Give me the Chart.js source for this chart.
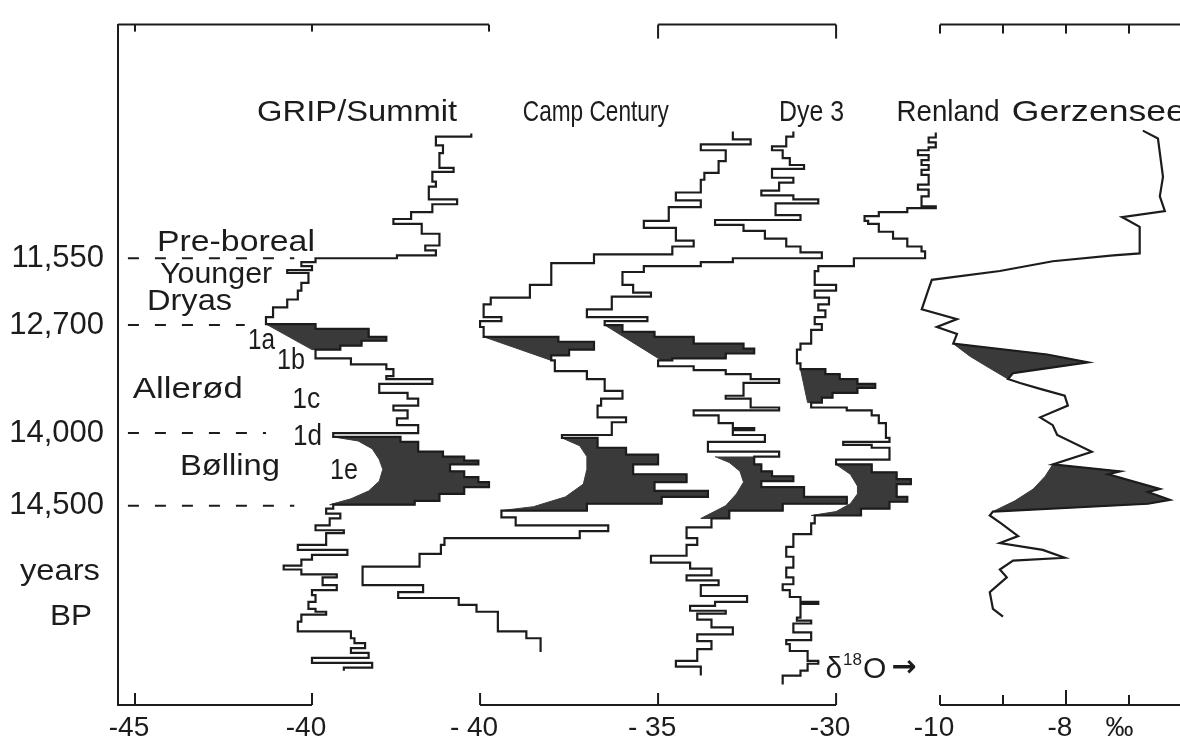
<!DOCTYPE html>
<html>
<head>
<meta charset="utf-8">
<script src="https://cdn.jsdelivr.net/npm/chart.js@4.4.1/dist/chart.umd.min.js"></script>
<style>
  html, body { margin: 0; padding: 0; background: #fff; }
  #wrap { width: 1180px; height: 740px; position: relative; }
</style>
</head>
<body>
<div id="wrap"><canvas id="chart"></canvas></div>
<script>
const ink = '#1c1c1c'
const shade = '#3a3a3a'
const face = '"Liberation Sans", Arial, sans-serif'

// dated levels (left axis), positions in core-profile units (0 = top)
const levelPos = [23.3, 30.1, 41.1, 48.5]
const levelLabels = ['11,550', '12,700', '14,000', '14,500']
const dashStart = -45.2
const dashEnd = [-40.5, -41.9, -41.3, -40.5]

// GRIP / Summit  (step profile: value i holds from pos i to pos i+1)
const gripPos = [10.6, 10.9, 11.8, 12.6, 14.1, 14.5, 15.5, 16.0, 17.3, 17.8,
  18.6, 19.3, 19.8, 20.8, 22.0, 22.5, 23.0, 23.3, 23.7, 24.1,
  24.5, 24.8, 25.8, 26.6, 27.5, 28.3, 29.3, 30.0, 30.5, 31.3,
  31.7, 32.2, 32.6, 33.5, 34.1, 34.6, 35.3, 35.6, 36.1, 37.0,
  37.6, 38.3, 38.8, 39.6, 40.3, 41.1, 41.5, 42.0, 42.5, 43.0,
  43.5, 43.9, 44.3, 45.0, 45.6, 46.1, 46.6, 47.3, 48.0, 48.4,
  48.8, 49.3, 49.8, 50.5, 51.0, 51.3, 52.5, 53.0, 53.5, 54.0,
  54.6, 55.0, 55.5, 55.8, 56.6, 57.1, 57.6, 58.3, 59.0, 59.3,
  59.6, 60.3, 61.3, 62.0, 62.5, 63.0, 63.5, 64.0, 64.5, 65.0, 65.3]
const gripD18O = [-35.5, -36.5, -36.3, -36.4, -36.0, -36.6, -36.5, -36.7, -35.9, -36.6,
  -37.2, -37.7, -36.9, -36.4, -36.8, -36.5, -37.6, -39.9, -40.3, -40.0,
  -40.7, -40.1, -40.3, -40.4, -40.7, -41.1, -41.3, -39.9, -38.4, -37.9,
  -38.6, -39.2, -39.9, -38.9, -37.9, -37.7, -37.9, -36.6, -38.1, -37.3,
  -37.0, -37.7, -37.3, -37.6, -37.0, -39.4, -37.5, -37.0, -37.0, -36.3,
  -35.7, -35.3, -36.1, -35.7, -35.3, -35.0, -35.7, -36.4, -37.1, -39.4,
  -39.6, -39.2, -39.5, -39.9, -39.1, -39.6, -40.4, -39.0, -40.0, -40.3,
  -40.8, -40.3, -39.3, -39.7, -39.3, -40.0, -39.9, -40.1, -39.9, -39.6,
  -40.3, -40.4, -38.9, -38.8, -38.5, -38.9, -38.4, -40.0, -38.3, -39.1]

// Camp Century
const campPos = [10.4, 11.2, 11.7, 12.3, 13.4, 14.6, 15.3, 16.6, 17.4, 18.1,
  19.5, 20.2, 21.5, 22.1, 22.9, 23.8, 26.0, 27.3, 28.0, 29.3,
  29.7, 30.3, 31.3, 31.8, 32.6, 33.2, 33.7, 34.8, 35.6, 36.8,
  37.6, 38.3, 39.5, 40.0, 41.3, 41.6, 42.6, 43.3, 44.3, 45.3,
  46.1, 47.0, 47.6, 48.3, 49.0, 49.7, 50.5, 51.1, 51.8, 52.5,
  53.4, 54.7, 56.6, 57.3, 57.9, 58.6, 59.3, 61.3, 62.0, 63.4]
const campD18O = [-32.9, -32.4, -33.8, -33.1, -33.3, -33.7, -33.8, -34.5, -33.8, -34.7,
  -35.4, -34.5, -34.0, -34.6, -36.8, -38.0, -38.6, -39.7, -39.9, -39.4,
  -40.0, -39.9, -37.8, -36.8, -37.5, -38.0, -37.9, -37.0, -36.5, -36.0,
  -36.6, -36.7, -35.9, -36.3, -37.7, -36.7, -35.9, -35.0, -35.7, -34.2,
  -35.1, -33.6, -34.9, -37.0, -39.4, -39.0, -36.4, -37.2, -41.0, -41.1,
  -41.7, -43.3, -41.6, -42.3, -40.6, -40.1, -39.5, -38.7, -38.3]

// Dye 3
const dyePos = [10.4, 10.9, 11.9, 12.3, 13.1, 13.8, 14.2, 15.1, 15.6, 16.4,
  16.9, 17.3, 17.7, 18.9, 19.4, 19.9, 20.5, 21.3, 22.1, 22.7,
  23.3, 23.7, 24.1, 24.7, 26.0, 26.8, 27.2, 28.5, 29.3, 29.7,
  30.1, 30.8, 31.3, 32.0, 32.5, 33.0, 33.5, 33.7, 34.3, 34.7,
  35.1, 35.6, 36.0, 37.3, 37.6, 38.5, 38.8, 39.3, 40.1, 40.6,
  40.8, 41.3, 42.0, 43.0, 43.5, 44.3, 45.0, 45.5, 46.0, 46.6,
  47.6, 48.3, 49.0, 49.8, 50.7, 51.8, 52.5, 53.6, 54.3, 54.9,
  55.6, 56.1, 56.6, 57.7, 58.3, 58.7, 59.2, 59.5, 60.1, 60.9,
  61.6, 62.3, 63.1, 64.3, 64.9, 65.8]
const dyeD18O = [-31.2, -31.4, -31.8, -31.5, -31.3, -30.9, -31.8, -31.2, -31.6, -32.1,
  -31.2, -30.5, -31.7, -31.0, -33.4, -32.6, -32.0, -31.4, -31.0, -30.4,
  -32.9, -33.8, -35.4, -36.0, -35.7, -35.2, -36.3, -37.0, -35.3, -36.5,
  -36.0, -35.1, -34.0, -32.6, -32.3, -33.1, -34.6, -35.0, -34.0, -33.1,
  -32.4, -31.6, -32.6, -33.1, -32.4, -31.6, -34.0, -33.3, -32.9, -32.3,
  -32.9, -32.0, -33.6, -31.6, -32.3, -32.1, -31.8, -31.2, -32.1, -30.9,
  -29.7, -31.5, -33.0, -33.5, -34.2, -33.9, -34.2, -35.2, -34.1, -33.5,
  -34.2, -33.3, -33.8, -32.5, -33.4, -34.1, -33.1, -33.9, -33.5, -32.9,
  -33.9, -33.5, -33.9, -34.5, -33.8]

// Renland
const renPos = [10.5, 11.0, 11.5, 12.0, 12.3, 12.8, 13.3, 13.8, 14.3, 14.8,
  15.3, 15.8, 16.3, 17.0, 17.5, 18.0, 18.2, 18.6, 19.0, 19.5,
  19.8, 20.6, 21.3, 22.1, 22.6, 23.3, 24.1, 24.6, 26.0, 26.6,
  27.3, 28.0, 28.6, 29.3, 30.0, 30.6, 31.3, 32.0, 32.6, 34.0,
  34.6, 35.1, 35.6, 36.1, 36.5, 37.0, 37.5, 38.0, 38.5, 38.8,
  39.3, 40.1, 41.6, 42.0, 42.3, 42.6, 43.8, 44.3, 45.1, 45.8,
  46.3, 47.6, 48.1, 48.8, 49.5, 50.3, 51.4, 52.7, 53.7, 54.8,
  55.8, 56.5, 57.1, 57.8, 58.3, 58.5, 59.9, 60.2, 60.5, 61.4,
  62.2, 62.6, 63.3, 64.3, 64.6, 65.3, 65.8, 66.7]
const renD18O = [-27.2, -27.4, -27.2, -27.4, -27.7, -27.4, -27.6, -27.4, -27.6, -27.4,
  -27.4, -27.7, -27.4, -27.6, -27.6, -27.2, -28.0, -28.8, -29.2, -29.1,
  -28.8, -28.4, -28.0, -27.6, -27.5, -29.5, -30.5, -30.6, -30.0, -30.6,
  -30.2, -30.5, -30.3, -30.6, -30.4, -30.7, -30.7, -31.0, -31.1, -31.0,
  -30.3, -29.9, -29.4, -28.9, -29.4, -30.1, -30.4, -30.7, -29.7, -29.0,
  -28.8, -28.6, -28.5, -29.8, -29.0, -28.5, -30.0, -29.0, -28.3, -27.9,
  -28.3, -28.0, -28.5, -29.3, -30.6, -30.7, -31.2, -31.4, -31.2, -31.4,
  -31.2, -31.5, -31.3, -31.0, -30.5, -31.0, -31.1, -30.7, -31.2, -30.7,
  -31.4, -31.3, -30.8, -30.5, -30.8, -31.0, -31.5]

// Gerzensee (lake marl, continuous curve)
const gerzPos = [10.3, 11.1, 15.0, 17.0, 18.5, 19.1, 20.1, 22.8, 23.0, 23.6,
  24.6, 25.5, 26.6, 28.5, 29.5, 30.3, 31.0, 32.0, 33.1, 33.9,
  35.0, 35.6, 36.0, 36.6, 37.3, 38.3, 39.5, 40.3, 41.3, 43.0,
  44.3, 45.0, 45.3, 46.8, 47.1, 47.9, 48.3, 49.1, 49.5, 50.3,
  51.6, 52.3, 53.0, 53.8, 54.1, 55.0, 55.8, 57.3, 59.0, 59.8]
const gerzD18O = [-6.78, -6.54, -6.46, -6.51, -6.43, -7.11, -6.83, -6.83, -7.25, -8.21,
  -9.05, -10.13, -10.19, -10.29, -9.73, -10.05, -9.73, -9.79, -8.30, -7.65,
  -8.84, -8.92, -8.73, -8.41, -8.02, -7.97, -8.41, -8.21, -8.14, -7.59,
  -8.21, -7.14, -7.33, -6.51, -6.70, -6.35, -6.70, -9.16, -9.21, -9.03,
  -8.76, -9.05, -8.37, -8.02, -8.84, -9.05, -8.94, -9.21, -9.16, -9.00]

// shaded warm events: rows of the profile + inner (left) edge [value, pos]
const grip1aRows = [27, 31]
const grip1aEdge = [[-41.3, 30.0], [-40.0, 32.6]]
const grip1eRows = [46, 58]
const grip1eEdge = [[-39.4, 41.5], [-38.7, 41.9], [-38.3, 42.7], [-38.1, 43.8], [-38.0, 44.8],
  [-38.1, 46.0], [-38.4, 47.0], [-38.9, 47.8], [-39.5, 48.4]]
const camp1aRows = [22, 25]
const camp1aEdge = [[-39.9, 31.3], [-38.0, 33.7]]
const camp1eRows = [35, 43]
const camp1eEdge = [[-37.7, 41.6], [-37.2, 42.4], [-37.0, 43.5], [-37.0, 44.8], [-37.1, 46.3],
  [-37.6, 47.6], [-38.5, 48.6], [-39.4, 49.0]]
const dye1aRows = [30, 36]
const dye1aEdge = [[-36.5, 30.1], [-34.9, 33.7]]
const dye1eRows = [54, 62]
const dye1eEdge = [[-33.4, 43.5], [-33.0, 44.1], [-32.7, 45.0], [-32.6, 46.1], [-32.8, 47.3],
  [-33.1, 48.5], [-33.8, 49.8]]
const ren1aRows = [40, 46]
const ren1aEdge = [[-31.0, 34.6], [-30.8, 38.0]]
const ren1eRows = [57, 63]
const ren1eEdge = [[-30.0, 44.3], [-29.6, 45.3], [-29.4, 46.5], [-29.4, 47.3], [-29.6, 48.3],
  [-30.0, 49.1], [-30.7, 49.5]]
const gerz1aPts = [17, 21]
const gerz1aEdge = [[-9.79, 32.0], [-9.52, 33.3], [-9.21, 34.5], [-8.92, 35.6]]
const gerz1ePts = [30, 37]
const gerz1eEdge = [[-8.21, 44.3], [-8.33, 45.5], [-8.52, 46.8], [-8.81, 48.0], [-9.16, 49.1]]

// axis pieces drawn along the frame
const gripTicks = [-45, -40]
const gripTickLabels = ['-45', '-40']
const campTicks = [-40, -35, -30]
const campTickLabels = ['- 40', '- 35', '-30']
const gerzTicks = [-10, -9, -8, -7]
const gerzTickLabels = ['-10', '', '-8', '']
const gripTopTicks = [-45, -40, -35]
const campTopTicks = [-35, -30]

// text placed in data units: [text, x scale, x, pos, width px]
const notes = [
  ['GRIP/Summit', 'xGrip', -41.55, 9.3, 200],
  ['Camp Century', 'xCamp', -38.8, 9.3, 146],
  ['Dye 3', 'xCamp', -31.6, 9.3, 65],
  ['Renland', 'xCamp', -28.3, 9.3, 103],
  ['Gerzensee', 'xGerz', -8.86, 9.3, 174],
  ['Pre-boreal', 'xGrip', -44.38, 22.6, 158],
  ['Younger', 'xGrip', -44.29, 25.8, 112],
  ['Dryas', 'xGrip', -44.66, 28.6, 85],
  ['1a', 'xGrip', -41.81, 32.5, 27],
  ['1b', 'xGrip', -40.99, 34.6, 28],
  ['Allerød', 'xGrip', -45.06, 37.5, 110],
  ['1c', 'xGrip', -40.56, 38.5, 28],
  ['1d', 'xGrip', -40.54, 42.3, 29],
  ['Bølling', 'xGrip', -43.73, 45.4, 100],
  ['1e', 'xGrip', -39.49, 45.8, 28],
  ['years', 'xGrip', -48.25, 56.1, 80],
  ['BP', 'xGrip', -47.4, 60.7, 42]
]

function stepPoints(pos, vals) {
  const pts = vals.map((v, i) => ({ x: v, y: pos[i] }))
  pts.push({ x: vals[vals.length - 1], y: pos[pos.length - 1] })
  return pts
}

function stepShape(pos, vals, rows, edge) {
  const pts = []
  for (let i = rows[0]; i <= rows[1]; i++) {
    pts.push({ x: vals[i], y: pos[i] }, { x: vals[i], y: pos[i + 1] })
  }
  for (let k = edge.length - 1; k >= 0; k--) pts.push({ x: edge[k][0], y: edge[k][1] })
  return pts
}

function curveShape(pos, vals, idx, edge) {
  const pts = []
  for (let i = idx[0]; i <= idx[1]; i++) pts.push({ x: vals[i], y: pos[i] })
  for (let k = edge.length - 1; k >= 0; k--) pts.push({ x: edge[k][0], y: edge[k][1] })
  return pts
}

const trace = (data, xAxisID, stepped) => ({
  data, xAxisID, yAxisID: 'y', stepped,
  borderColor: ink, borderWidth: 2.2, pointRadius: 0, fill: false
})
const blob = (data, xAxisID) => ({
  data, xAxisID, yAxisID: 'y',
  borderColor: shade, backgroundColor: shade, borderWidth: 1, pointRadius: 0, fill: 'shape'
})

const datasets = [
  trace(stepPoints(gripPos, gripD18O), 'xGrip', 'after'),
  trace(stepPoints(campPos, campD18O), 'xCamp', 'after'),
  trace(stepPoints(dyePos, dyeD18O), 'xCamp', 'after'),
  trace(stepPoints(renPos, renD18O), 'xCamp', 'after'),
  trace(gerzPos.map((p, i) => ({ x: gerzD18O[i], y: p })), 'xGerz', false)
]
levelPos.forEach((p, i) => {
  datasets.push({
    data: [{ x: dashStart, y: p }, { x: dashEnd[i], y: p }],
    xAxisID: 'xGrip', yAxisID: 'y',
    borderColor: ink, borderWidth: 2, borderDash: [11, 16], pointRadius: 0, fill: false
  })
})
datasets.push(
  blob(stepShape(gripPos, gripD18O, grip1aRows, grip1aEdge), 'xGrip'),
  blob(stepShape(gripPos, gripD18O, grip1eRows, grip1eEdge), 'xGrip'),
  blob(stepShape(campPos, campD18O, camp1aRows, camp1aEdge), 'xCamp'),
  blob(stepShape(campPos, campD18O, camp1eRows, camp1eEdge), 'xCamp'),
  blob(stepShape(dyePos, dyeD18O, dye1aRows, dye1aEdge), 'xCamp'),
  blob(stepShape(dyePos, dyeD18O, dye1eRows, dye1eEdge), 'xCamp'),
  blob(stepShape(renPos, renD18O, ren1aRows, ren1aEdge), 'xCamp'),
  blob(stepShape(renPos, renD18O, ren1eRows, ren1eEdge), 'xCamp'),
  blob(curveShape(gerzPos, gerzD18O, gerz1aPts, gerz1aEdge), 'xGerz'),
  blob(curveShape(gerzPos, gerzD18O, gerz1ePts, gerz1eEdge), 'xGerz')
)

function fitText(ctx, text, x, y, width, size) {
  ctx.font = `${size}px ${face}`
  const w = ctx.measureText(text).width
  ctx.save()
  ctx.translate(x, y)
  ctx.scale(width / w, 1)
  ctx.fillText(text, 0, 0)
  ctx.restore()
}

const framePlugin = {
  id: 'frame',
  afterDraw(chart) {
    const { ctx, chartArea, scales } = chart
    const top = chartArea.top
    const bottom = chartArea.bottom
    const runs = [
      { s: 'xGrip', edge: bottom, from: null, to: -40, ticks: gripTicks, len: 12 },
      { s: 'xCamp', edge: bottom, from: -40, to: -30, ticks: campTicks, len: 12 },
      { s: 'xGerz', edge: bottom, from: -10, to: null, ticks: gerzTicks, len: 10, major: -8 },
      { s: 'xGrip', edge: top, from: null, to: -35, ticks: gripTopTicks, len: 7 },
      { s: 'xCamp', edge: top, from: -35, to: -30, ticks: campTopTicks, len: 14 },
      { s: 'xGerz', edge: top, from: -10, to: null, ticks: gerzTicks, len: 9 }
    ]
    ctx.save()
    ctx.strokeStyle = ink
    ctx.lineWidth = 2
    runs.forEach(r => {
      const sc = scales[r.s]
      const dir = r.edge === top ? 1 : -1
      const xa = sc.getPixelForValue(r.from === null ? sc.min : r.from)
      const xb = sc.getPixelForValue(r.to === null ? sc.max : r.to)
      ctx.beginPath()
      ctx.moveTo(xa, r.edge)
      ctx.lineTo(xb, r.edge)
      ctx.stroke()
      r.ticks.forEach(t => {
        const x = sc.getPixelForValue(t)
        const len = t === r.major ? r.len + 5 : r.len
        ctx.beginPath()
        ctx.moveTo(x, r.edge)
        ctx.lineTo(x, r.edge + dir * len)
        ctx.stroke()
      })
    })

    ctx.fillStyle = ink
    ctx.textBaseline = 'alphabetic'
    ctx.font = `28px ${face}`
    ctx.textAlign = 'center'
    const labelRow = bottom + 31
    const put = (sc, ticks, labels) => ticks.forEach((t, i) => {
      if (labels[i]) ctx.fillText(labels[i], scales[sc].getPixelForValue(t) - 6, labelRow)
    })
    put('xGrip', gripTicks, gripTickLabels)
    put('xCamp', campTicks, campTickLabels)
    put('xGerz', gerzTicks, gerzTickLabels)
    ctx.fillText('‰', scales.xGerz.getPixelForValue(-7.15), labelRow)

    ctx.textAlign = 'left'
    notes.forEach(([t, s, x, p, w]) => {
      fitText(ctx, t, scales[s].getPixelForValue(x), scales.y.getPixelForValue(p), w, 30)
    })

    // delta 18 O arrow
    const dx = scales.xCamp.getPixelForValue(-30.3)
    const dy = scales.y.getPixelForValue(66.1)
    ctx.font = `30px ${face}`
    ctx.fillText('δ', dx, dy)
    let cx = dx + ctx.measureText('δ').width + 1
    ctx.font = `17px ${face}`
    ctx.fillText('18', cx, dy - 13)
    cx += ctx.measureText('18').width + 1
    ctx.font = `30px ${face}`
    ctx.fillText('O', cx, dy)
    cx += ctx.measureText('O').width + 5
    ctx.font = `bold 30px "DejaVu Sans", sans-serif`
    ctx.fillText('→', cx, dy - 2)
    ctx.restore()
  }
}

new Chart(document.getElementById('chart'), {
  type: 'line',
  data: { datasets },
  options: {
    indexAxis: 'y',
    responsive: true,
    maintainAspectRatio: false,
    animation: false,
    events: [],
    layout: { padding: { top: 12, bottom: 35, left: 0, right: 0 } },
    plugins: { legend: { display: false }, tooltip: { enabled: false } },
    scales: {
      y: {
        type: 'linear',
        position: 'left',
        reverse: true,
        min: -0.5,
        max: 68.8,
        afterFit: s => { s.width = 118 },
        afterBuildTicks: s => { s.ticks = levelPos.map(v => ({ value: v })) },
        ticks: {
          callback: (v, i) => levelLabels[i],
          font: { family: face, size: 31 },
          color: ink,
          padding: 6
        },
        grid: { display: false },
        border: { display: true, color: ink, width: 2 }
      },
      xGrip: { type: 'linear', display: false, min: -45.48, max: -15.48 },
      xCamp: { type: 'linear', display: false, min: -50.17, max: -20.34 },
      xGerz: { type: 'linear', display: false, min: -23.05, max: -6.19 }
    }
  },
  plugins: [framePlugin]
})
</script>
</body>
</html>
